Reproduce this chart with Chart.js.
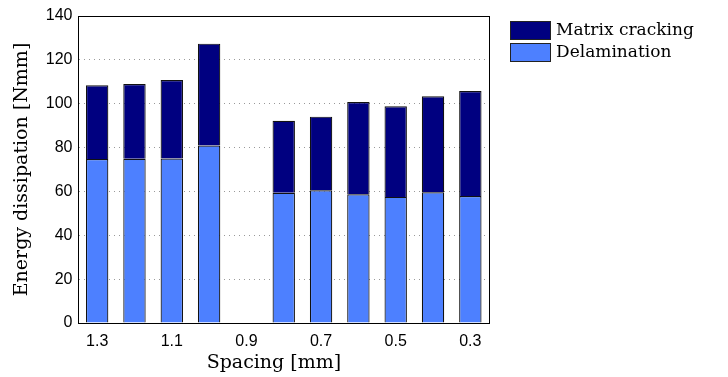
<!DOCTYPE html>
<html>
<head>
<meta charset="utf-8">
<script src="https://cdn.jsdelivr.net/npm/chart.js@4/dist/chart.umd.min.js"></script>
<style>
  html, body { margin: 0; padding: 0; background: #fff; }
  #wrap { width: 728px; height: 377px; }
</style>
</head>
<body>
<div id="wrap"><canvas id="energyChart" width="728" height="377"></canvas></div>
<script>
const spacings = ['1.3', '1.2', '1.1', '1.0', '0.9', '0.8', '0.7', '0.6', '0.5', '0.4', '0.3'];
const delamination = [74.8, 74.9, 75.0, 80.9, null, 59.4, 60.5, 58.7, 57.5, 59.6, 57.9];
const matrixCracking = [33.6, 34.1, 35.8, 46.5, null, 32.8, 33.6, 42.1, 41.3, 43.8, 47.9];
const yTicks = [0, 20, 40, 60, 80, 100, 120, 140];

const serif = '"DejaVu Serif", serif';
const sans = '"Liberation Sans", Arial, sans-serif';

// box round the plot, x title, legend on the right
const boxAndLegend = {
    id: 'boxAndLegend',
    afterDraw(chart) {
        const ctx = chart.ctx;
        const a = chart.chartArea;
        ctx.save();
        ctx.strokeStyle = '#000';
        ctx.lineWidth = 1;
        ctx.strokeRect(Math.round(a.left) + 0.5, Math.round(a.top) + 0.5,
            Math.round(a.right - a.left), Math.round(a.bottom - a.top));

        ctx.font = '19px ' + serif;
        ctx.fillStyle = '#000';
        ctx.textAlign = 'center';
        ctx.textBaseline = 'middle';
        ctx.fillText('Spacing [mm]', a.left + (a.right - a.left) * 0.476, 363);

        const items = chart.data.datasets.slice().reverse();
        let y = 21;
        ctx.font = '17px ' + serif;
        ctx.textAlign = 'left';
        items.forEach(ds => {
            ctx.fillStyle = ds.backgroundColor;
            ctx.fillRect(510, y, 40, 18);
            ctx.strokeStyle = '#222';
            ctx.strokeRect(510.5, y + 0.5, 40, 18);
            ctx.fillStyle = '#000';
            ctx.fillText(ds.label, 556, y + 10);
            y += 22;
        });
        ctx.restore();
    }
};

new Chart(document.getElementById('energyChart'), {
    type: 'bar',
    data: {
        labels: spacings,
        datasets: [{
            label: 'Delamination',
            data: delamination,
            backgroundColor: '#4d80ff',
            borderColor: '#111',
            borderWidth: 1.2,
            barPercentage: 0.6,
            categoryPercentage: 1.0
        }, {
            label: 'Matrix cracking',
            data: matrixCracking,
            backgroundColor: '#000080',
            borderColor: '#111',
            borderWidth: 1.2,
            barPercentage: 0.6,
            categoryPercentage: 1.0
        }]
    },
    options: {
        responsive: false,
        animation: false,
        layout: { padding: { left: 11, right: 239, top: 16, bottom: 0 } },
        plugins: {
            legend: { display: false },
            tooltip: { enabled: false }
        },
        scales: {
            x: {
                stacked: true,
                afterFit: function (axis) { axis.height = 54; },
                grid: { display: false },
                border: { display: true, color: '#000' },
                ticks: {
                    autoSkip: false,
                    maxRotation: 0,
                    padding: 1,
                    color: '#000',
                    font: { family: sans, size: 16 },
                    callback: function (val, i) {
                        return i % 2 === 0 ? spacings[i] : '';
                    }
                }
            },
            y: {
                stacked: true,
                min: 0,
                max: 140,
                afterBuildTicks: function (axis) {
                    axis.ticks = yTicks.map(v => ({ value: v }));
                },
                border: { display: true, color: '#000', dash: [1, 4] },
                grid: {
                    drawTicks: false,
                    color: ctx => (ctx.tick && (ctx.tick.value === 0 || ctx.tick.value === 140)) ? 'rgba(0,0,0,0)' : '#999',
                    lineWidth: 1
                },
                ticks: {
                    color: '#000',
                    padding: 6,
                    font: { family: sans, size: 16 }
                },
                title: {
                    display: true,
                    text: 'Energy dissipation [Nmm]',
                    color: '#000',
                    font: { family: serif, size: 19 },
                    padding: { top: 0, bottom: 6 }
                }
            }
        }
    },
    plugins: [boxAndLegend]
});
</script>
</body>
</html>
